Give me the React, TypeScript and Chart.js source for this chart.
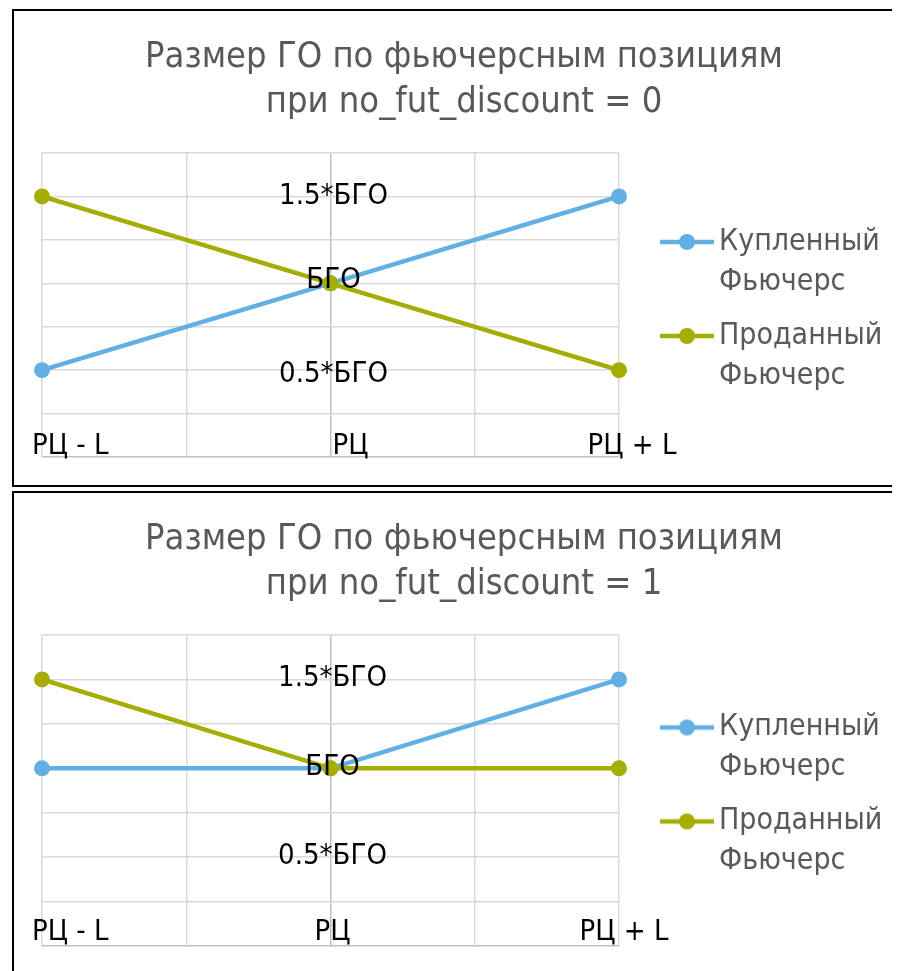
import React, { useEffect, useRef } from "react";
import { Chart, registerables } from "chart.js";

Chart.register(...registerables);

// ---------- data ----------
const categoryLabels = ["РЦ - L", "РЦ", "РЦ + L"];
const categoryPositions = [-1, 0, 1];
const levelLabels = ["0.5*БГО", "БГО", "1.5*БГО"];
const levelValues = [0.5, 1, 1.5];

const seriesNames = [["Купленный", "Фьючерс"], ["Проданный", "Фьючерс"]];

const bought0 = [0.5, 1, 1.5];
const sold0 = [1.5, 1, 0.5];
const bought1 = [1, 1, 1.5];
const sold1 = [1.5, 1, 1];

const title0 = ["Размер ГО по фьючерсным позициям", "при no_fut_discount = 0"];
const title1 = ["Размер ГО по фьючерсным позициям", "при no_fut_discount = 1"];

// ---------- style ----------
const FONT = "'DejaVu Sans Condensed', 'DejaVu Sans', sans-serif";
const BLUE = "#62B0E3";
const GREEN = "#A4AD00";
const GRID = "#d9d9d9";
const AXIS = "#bfbfbf";
const TEXT_GRAY = "#595959";

function legendMarker(color: string): HTMLCanvasElement {
  const c = document.createElement("canvas");
  c.width = 54;
  c.height = 18;
  const g = c.getContext("2d")!;
  g.strokeStyle = color;
  g.lineWidth = 4.5;
  g.beginPath();
  g.moveTo(0, 9);
  g.lineTo(54, 9);
  g.stroke();
  g.fillStyle = color;
  g.beginPath();
  g.arc(27, 9, 8, 0, Math.PI * 2);
  g.fill();
  return c;
}

type XStyle = { align: CanvasTextAlign; dx: number };
type LabelCfg = { xStyles: XStyle[]; xDy: number; yDx: number; yDy: number[] };

function makeAxisTextPlugin(cfg: LabelCfg) {
  return {
    id: "axisText",
    afterDatasetsDraw(chart: any) {
      const { ctx, scales } = chart;
      const x = scales.x;
      const y = scales.y;
      ctx.save();
      ctx.font = `29px ${FONT}`;
      ctx.fillStyle = "#000000";
      ctx.textBaseline = "middle";
      levelValues.forEach((v, i) => {
        ctx.textAlign = "center";
        ctx.fillText(levelLabels[i], x.getPixelForValue(0) + cfg.yDx, y.getPixelForValue(v) + cfg.yDy[i]);
      });
      categoryPositions.forEach((v, i) => {
        const st = cfg.xStyles[i];
        ctx.textAlign = st.align;
        ctx.fillText(categoryLabels[i], x.getPixelForValue(v) + st.dx, y.bottom + cfg.xDy);
      });
      ctx.restore();
    },
  };
}

function buildConfig(title: string[], bought: number[], sold: number[], labelCfg: LabelCfg): any {
  const boughtPts = categoryPositions.map((x, i) => ({ x, y: bought[i] }));
  const soldPts = categoryPositions.map((x, i) => ({ x, y: sold[i] }));
  const markers = [legendMarker(BLUE), legendMarker(GREEN)];
  const colors = [BLUE, GREEN];
  const lineDs = (label: string, data: any[], color: string) => ({
    label,
    data,
    borderColor: color,
    backgroundColor: color,
    pointBackgroundColor: color,
    pointBorderWidth: 0,
    pointRadius: 8,
    borderWidth: 4.5,
    tension: 0,
    clip: false,
  });
  return {
    type: "line",
    data: {
      datasets: [
        lineDs(seriesNames[1].join(" "), soldPts, GREEN),
        lineDs(seriesNames[0].join(" "), boughtPts, BLUE),
      ],
    },
    options: {
      animation: false,
      responsive: false,
      events: [],
      layout: { padding: { left: 28, right: 22, top: 0, bottom: 28 } },
      scales: {
        x: {
          type: "linear",
          min: -1,
          max: 1,
          ticks: { display: false, stepSize: 0.5 },
          grid: {
            drawTicks: false,
            lineWidth: 1.5,
            color: (c: any) => (c.tick && c.tick.value === 0 ? AXIS : GRID),
          },
          border: { display: false },
        },
        y: {
          type: "linear",
          min: 0,
          max: 1.75,
          ticks: { display: false, stepSize: 0.25 },
          grid: {
            drawTicks: false,
            lineWidth: 1.5,
            color: (c: any) => (c.tick && c.tick.value === 0 ? AXIS : GRID),
          },
          border: { display: false },
        },
        spacer: {
          type: "linear",
          position: "right",
          display: true,
          ticks: { display: false },
          grid: { display: false, drawTicks: false },
          border: { display: false },
          afterFit: (s: any) => {
            s.width = 37;
          },
        },
      },
      plugins: {
        tooltip: { enabled: false },
        title: {
          display: true,
          text: title,
          color: TEXT_GRAY,
          font: { family: FONT, size: 36, weight: "normal", lineHeight: 1.25 },
          padding: { top: 24.5, bottom: 27.5 },
        },
        legend: {
          display: true,
          position: "right",
          fullSize: false,
          maxWidth: 230,
          title: { display: true, text: "", padding: 0, font: { size: 18, lineHeight: 1 } },
          labels: {
            usePointStyle: true,
            pointStyleWidth: 34,
            padding: 14,
            color: TEXT_GRAY,
            font: { family: FONT, size: 30, lineHeight: 40 / 30 },
            generateLabels: () =>
              [0, 1].map((i) => ({
                text: seriesNames[i],
                pointStyle: markers[i],
                fillStyle: colors[i],
                strokeStyle: colors[i],
                fontColor: TEXT_GRAY,
                lineWidth: 0,
                hidden: false,
                datasetIndex: 1 - i,
              })),
          },
        },
      },
    },
    plugins: [makeAxisTextPlugin(labelCfg)],
  };
}

function ChartBox(props: { top: number; height: number; config: any }) {
  const ref = useRef<HTMLCanvasElement>(null);
  useEffect(() => {
    const chart = new Chart(ref.current!, props.config);
    return () => chart.destroy();
  }, []);
  return (
    <div
      style={{
        position: "absolute",
        left: 4,
        top: props.top,
        width: 894,
        height: props.height,
        border: "2px solid #000",
        background: "#fff",
      }}
    >
      <canvas ref={ref} width={894} height={props.height} style={{ display: "block" }} />
    </div>
  );
}

export default function App() {
  const cfg0 = buildConfig(title0, bought0, sold0, {
    xStyles: [
      { align: "left", dx: -10 },
      { align: "left", dx: 2 },
      { align: "center", dx: 13 },
    ],
    xDy: -11,
    yDx: 3,
    yDy: [4.5, -3, 0],
  });
  const cfg1 = buildConfig(title1, bought1, sold1, {
    xStyles: [
      { align: "left", dx: -10 },
      { align: "center", dx: 2 },
      { align: "center", dx: 5 },
    ],
    xDy: -14,
    yDx: 2,
    yDy: [-1, -1, -1],
  });
  return (
    <div style={{ position: "relative", width: 892, height: 963, overflow: "hidden", fontFamily: FONT }}>
      <ChartBox top={1} height={474} config={cfg0} />
      <ChartBox top={483} height={481} config={cfg1} />
    </div>
  );
}
